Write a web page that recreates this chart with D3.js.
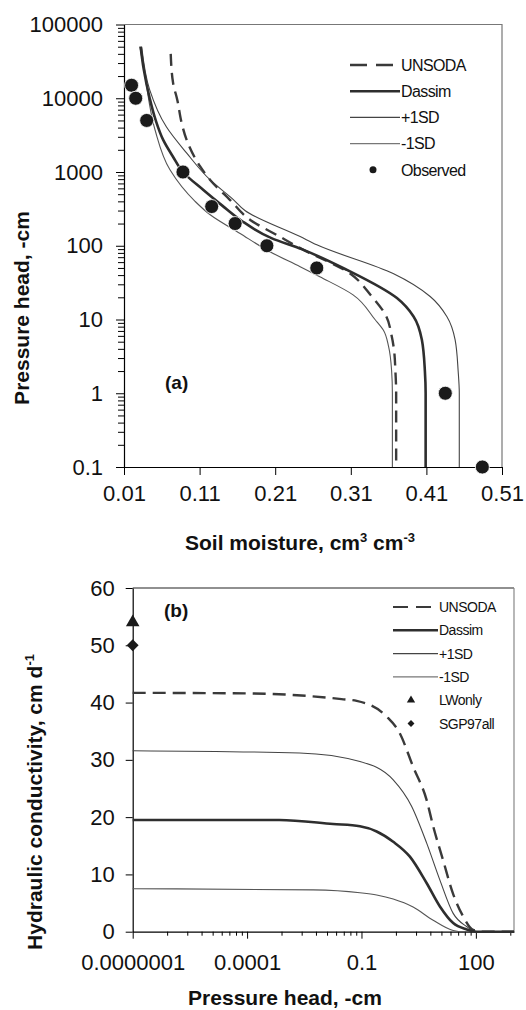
<!DOCTYPE html>
<html>
<head>
<meta charset="utf-8">
<script src="https://cdn.jsdelivr.net/npm/d3@7"></script>
<style>
  body { margin: 0; background: #fff; }
  svg { display: block; }
</style>
</head>
<body>
<script>
// ---- panel (a): soil water retention ----
const thetaTicks = [0.01, 0.11, 0.21, 0.31, 0.41, 0.51];
const headTicksA = [0.1, 1, 10, 100, 1000, 10000, 100000];

const obsTheta = [0.020, 0.0255, 0.040, 0.088, 0.126, 0.157, 0.199, 0.265, 0.435, 0.484];
const obsHead  = [15000, 10000, 5000, 1000, 340, 200, 100, 50, 1, 0.1];

const unsodaThetaA = [0.0718, 0.075, 0.0805, 0.0863, 0.093, 0.1105, 0.124, 0.150, 0.177, 0.216, 0.243, 0.309, 0.337, 0.357, 0.364, 0.367, 0.369, 0.370, 0.370];
const unsodaHeadA  = [40000, 16000, 9500, 4600, 2700, 1200, 780, 420, 224, 133, 93, 42, 21, 11, 6, 4, 2, 1, 0.1];

const dassimThetaA = [0.032, 0.036, 0.044, 0.052, 0.062, 0.075, 0.088, 0.115, 0.14, 0.165, 0.205, 0.245, 0.305, 0.371, 0.393, 0.404, 0.408, 0.409, 0.409];
const dassimHeadA  = [50000, 25000, 10000, 5000, 2700, 1600, 1000, 570, 350, 220, 127, 90, 47, 19.5, 11, 5.3, 2, 1, 0.1];

const plusThetaA = [0.0334, 0.044, 0.066, 0.093, 0.124, 0.155, 0.17, 0.243, 0.265, 0.366, 0.415, 0.437, 0.448, 0.452, 0.4535, 0.4535];
const plusHeadA  = [50000, 13000, 4100, 1800, 780, 420, 300, 133, 103, 42, 20.5, 11, 5.3, 2, 1, 0.1];

const minusThetaA = [0.031, 0.0378, 0.051, 0.0708, 0.104, 0.124, 0.163, 0.203, 0.243, 0.269, 0.313, 0.342, 0.353, 0.360, 0.364, 0.365, 0.365];
const minusHeadA  = [50000, 19800, 3740, 1070, 400, 263, 148, 83, 52, 38, 21.6, 10, 7.2, 4.3, 2, 1, 0.1];

// ---- panel (b): hydraulic conductivity ----
const kTicks = [0, 10, 20, 30, 40, 50, 60];
const headTicksB = [1e-7, 1e-4, 0.1, 100];
const headTickLabelsB = ['0.0000001', '0.0001', '0.1', '100'];

const unsodaHeadB = [1e-7, 1e-4, 1e-3, 0.005, 0.03, 0.075, 0.45, 1.0, 2.26, 5.1, 7.6, 13.8, 25, 47, 85, 150, 1000];
const unsodaK     = [41.7, 41.6, 41.4, 41.1, 40.6, 40.3, 37.6, 34.7, 28.8, 23.0, 18.4, 12.5, 6.7, 2.6, 0.3, 0, 0];

const dassimHeadB = [1e-7, 7e-4, 0.018, 0.091, 0.25, 0.68, 1.86, 5.1, 11.4, 25.4, 57, 105, 1000];
const dassimK     = [19.5, 19.5, 18.8, 18.4, 17.5, 15.7, 13.1, 8.5, 4.4, 1.5, 0.4, 0, 0];

const plusHeadB = [1e-7, 0.0024, 0.091, 0.68, 2.06, 5.1, 11.4, 25.4, 57, 105, 1000];
const plusK     = [31.6, 31.2, 29.7, 26.5, 21.9, 15.5, 9.0, 3.2, 0.9, 0, 0];

const minusHeadB = [1e-7, 0.0054, 0.091, 0.25, 0.68, 2.26, 7.6, 25.4, 38, 1000];
const minusK     = [7.5, 7.3, 6.8, 6.4, 5.7, 4.3, 2.0, 0.2, 0, 0];

const pointHeadB = 1e-7;
const lwOnlyK = 54;
const sgp97K = 50;

const font = '"Liberation Sans", Arial, sans-serif';
const zip = (xs, ys) => xs.map((x, i) => [x, ys[i]]);

const svg = d3.select('body').append('svg')
    .attr('width', 526)
    .attr('height', 1010)
    .attr('font-family', font);

const styles = {
  unsoda: {stroke: '#3a3a3a', width: 2.4, dash: '12,7'},
  dassim: {stroke: '#2e2e2e', width: 2.6, dash: null},
  plus:   {stroke: '#444', width: 1.1, dash: null},
  minus:  {stroke: '#555', width: 1.1, dash: null}
};

function drawLine(g, data, line, st) {
  g.append('path')
    .datum(data)
    .attr('fill', 'none')
    .attr('stroke', st.stroke)
    .attr('stroke-width', st.width)
    .attr('stroke-dasharray', st.dash)
    .attr('d', line);
}

function styleAxis(sel, size) {
  sel.selectAll('.domain').attr('stroke', '#000').attr('stroke-width', 1.2);
  sel.selectAll('.tick line').attr('stroke', '#000');
  sel.selectAll('text').attr('font-size', size).attr('fill', '#111').attr('font-family', font);
}

// ================= panel (a) =================
const xA = d3.scaleLinear().domain([0.01, 0.51]).range([124, 502]);
const yA = d3.scaleLog().domain([0.1, 100000]).range([467, 24.5]);

// frame (top / right)
svg.append('path')
  .attr('d', `M${xA(0.01)},${yA(100000)}H${xA(0.51)}V${yA(0.1)}`)
  .attr('fill', 'none').attr('stroke', '#777').attr('stroke-width', 1.2);

// minor log ticks
const minorA = [];
headTicksA.slice(0, -1).forEach(d => { for (let k = 2; k <= 9; k++) minorA.push(d * k); });
svg.append('g')
  .attr('transform', `translate(${xA(0.01)},0)`)
  .call(d3.axisLeft(yA).tickValues(minorA).tickSize(6).tickFormat(''))
  .call(g => g.select('.domain').remove())
  .call(g => g.selectAll('.tick line').attr('stroke', '#000'));

svg.append('g')
  .attr('transform', `translate(${xA(0.01)},0)`)
  .call(d3.axisLeft(yA).tickValues(headTicksA).tickSize(8).tickSizeOuter(0)
        .tickPadding(13).tickFormat(d => String(d)))
  .call(g => styleAxis(g, 22));

svg.append('g')
  .attr('transform', `translate(0,${yA(0.1)})`)
  .call(d3.axisBottom(xA).tickValues(thetaTicks).tickSize(8).tickSizeOuter(0)
        .tickPadding(10).tickFormat(d3.format('.2f')))
  .call(g => styleAxis(g, 22));

const lineA = d3.line()
  .x(d => xA(d[0]))
  .y(d => yA(d[1]))
  .curve(d3.curveMonotoneY);

const gA = svg.append('g');
drawLine(gA, zip(minusThetaA, minusHeadA), lineA, styles.minus);
drawLine(gA, zip(plusThetaA, plusHeadA), lineA, styles.plus);
drawLine(gA, zip(unsodaThetaA, unsodaHeadA), lineA, styles.unsoda);
drawLine(gA, zip(dassimThetaA, dassimHeadA), lineA, styles.dassim);

gA.selectAll('circle.obs')
  .data(zip(obsTheta, obsHead))
  .join('circle')
    .attr('class', 'obs')
    .attr('cx', d => xA(d[0]))
    .attr('cy', d => yA(d[1]))
    .attr('r', 7)
    .attr('fill', '#1a1a1a')
    .attr('stroke', '#fff')
    .attr('stroke-width', 0.8);

svg.append('text')
  .attr('x', 165).attr('y', 389)
  .attr('font-size', 19).attr('font-weight', 'bold').attr('fill', '#111')
  .text('(a)');

// legend (a)
const legA = [
  {name: 'UNSODA', st: {stroke: '#3a3a3a', width: 2.4, dash: '17,9'}},
  {name: 'Dassim', st: styles.dassim},
  {name: '+1SD', st: styles.plus},
  {name: '-1SD', st: {stroke: '#777', width: 1.2}},
  {name: 'Observed', dot: true}
];
const gLegA = svg.append('g').attr('transform', 'translate(350,65)');
legA.forEach((d, i) => {
  const row = gLegA.append('g').attr('transform', `translate(0,${i * 26.2})`);
  if (d.dot) {
    row.append('circle').attr('cx', 23).attr('cy', 0).attr('r', 3.5).attr('fill', '#1a1a1a');
  } else {
    row.append('line').attr('x1', 0).attr('x2', 50)
      .attr('stroke', d.st.stroke).attr('stroke-width', d.st.width)
      .attr('stroke-dasharray', d.st.dash);
  }
  row.append('text').attr('x', 51).attr('dy', '0.36em')
    .attr('font-size', 16).attr('letter-spacing', -0.6).attr('fill', '#111')
    .text(d.name);
});

// axis titles (a)
svg.append('text')
  .attr('transform', 'translate(29,308) rotate(-90)')
  .attr('text-anchor', 'middle')
  .attr('font-size', 21).attr('font-weight', 'bold').attr('fill', '#111')
  .text('Pressure head, -cm');

const tA = svg.append('text')
  .attr('x', 300).attr('y', 550)
  .attr('text-anchor', 'middle')
  .attr('font-size', 21).attr('font-weight', 'bold').attr('fill', '#111');
tA.append('tspan').text('Soil moisture, cm');
tA.append('tspan').attr('font-size', 13).attr('dy', -8).text('3');
tA.append('tspan').attr('dy', 8).text(' cm');
tA.append('tspan').attr('font-size', 13).attr('dy', -8).text('-3');

// ================= panel (b) =================
const xB = d3.scaleLog().domain([1e-7, 1000]).range([132.7, 514]);
const yB = d3.scaleLinear().domain([0, 60]).range([931.7, 588]);

svg.append('path')
  .attr('d', `M${xB(1e-7)},${yB(60)}H${xB(1000)}`)
  .attr('fill', 'none').attr('stroke', '#222').attr('stroke-width', 1.2);
svg.append('path')
  .attr('d', `M${xB(1000)},${yB(60)}V${yB(0)}`)
  .attr('fill', 'none').attr('stroke', '#888').attr('stroke-width', 1.2);

// minor ticks: the axis steps by factors of 1000
const minorB = [];
headTicksB.forEach(d => { for (let k = 2; k <= 9; k++) { const v = d * k * k * k; if (v < 1000) minorB.push(v); } });
svg.append('g')
  .attr('transform', `translate(0,${yB(0)})`)
  .call(d3.axisBottom(xB).tickValues(minorB).tickSize(4).tickFormat(''))
  .call(g => g.select('.domain').remove())
  .call(g => g.selectAll('.tick line').attr('stroke', '#000'));

svg.append('g')
  .attr('transform', `translate(0,${yB(0)})`)
  .call(d3.axisBottom(xB).tickValues(headTicksB).tickSize(7).tickSizeOuter(0)
        .tickPadding(16).tickFormat((d, i) => headTickLabelsB[i]))
  .call(g => styleAxis(g, 22));

svg.append('g')
  .attr('transform', `translate(${xB(1e-7)},0)`)
  .call(d3.axisLeft(yB).tickValues(kTicks).tickSize(7).tickSizeOuter(0).tickPadding(11))
  .call(g => styleAxis(g, 22));

const lineB = d3.line()
  .x(d => xB(d[0]))
  .y(d => yB(d[1]))
  .curve(d3.curveMonotoneX);

const gB = svg.append('g');
drawLine(gB, zip(minusHeadB, minusK), lineB, styles.minus);
drawLine(gB, zip(plusHeadB, plusK), lineB, styles.plus);
drawLine(gB, zip(unsodaHeadB, unsodaK), lineB, {stroke: '#3a3a3a', width: 2.4, dash: '13,7'});
drawLine(gB, zip(dassimHeadB, dassimK), lineB, styles.dassim);

const tri = d3.symbol().type(d3.symbolTriangle).size(80);
const dia = d3.symbol().type(d3.symbolSquare).size(70);
gB.append('path')
  .attr('d', tri())
  .attr('transform', `translate(${xB(pointHeadB)},${yB(lwOnlyK)})`)
  .attr('fill', '#1a1a1a');
gB.append('path')
  .attr('d', dia())
  .attr('transform', `translate(${xB(pointHeadB)},${yB(sgp97K)}) rotate(45)`)
  .attr('fill', '#1a1a1a');

svg.append('text')
  .attr('x', 164).attr('y', 617)
  .attr('font-size', 19).attr('font-weight', 'bold').attr('fill', '#111')
  .text('(b)');

// legend (b)
const legB = [
  {name: 'UNSODA', st: {stroke: '#3a3a3a', width: 2.2, dash: '15,8'}},
  {name: 'Dassim', st: styles.dassim},
  {name: '+1SD', st: styles.plus},
  {name: '-1SD', st: {stroke: '#777', width: 1.2}},
  {name: 'LWonly', sym: d3.symbol().type(d3.symbolTriangle).size(30), rot: 0},
  {name: 'SGP97all', sym: d3.symbol().type(d3.symbolSquare).size(24), rot: 45}
];
const gLegB = svg.append('g').attr('transform', 'translate(393,607)');
legB.forEach((d, i) => {
  const row = gLegB.append('g').attr('transform', `translate(0,${i * 23.3})`);
  if (d.sym) {
    row.append('path').attr('d', d.sym()).attr('transform', `translate(18,0) rotate(${d.rot})`).attr('fill', '#1a1a1a');
  } else {
    row.append('line').attr('x1', 0).attr('x2', 45)
      .attr('stroke', d.st.stroke).attr('stroke-width', d.st.width)
      .attr('stroke-dasharray', d.st.dash);
  }
  row.append('text').attr('x', 46).attr('dy', '0.36em')
    .attr('font-size', 14).attr('letter-spacing', -0.5).attr('fill', '#111')
    .text(d.name);
});

// axis titles (b)
const tB = svg.append('text')
  .attr('transform', 'translate(42,802) rotate(-90)')
  .attr('text-anchor', 'middle')
  .attr('font-size', 21).attr('font-weight', 'bold').attr('fill', '#111');
tB.append('tspan').text('Hydraulic conductivity, cm d');
tB.append('tspan').attr('font-size', 13).attr('dy', -8).text('-1');

svg.append('text')
  .attr('x', 285).attr('y', 1005)
  .attr('text-anchor', 'middle')
  .attr('font-size', 21).attr('font-weight', 'bold').attr('fill', '#111')
  .text('Pressure head, -cm');
</script>
</body>
</html>
